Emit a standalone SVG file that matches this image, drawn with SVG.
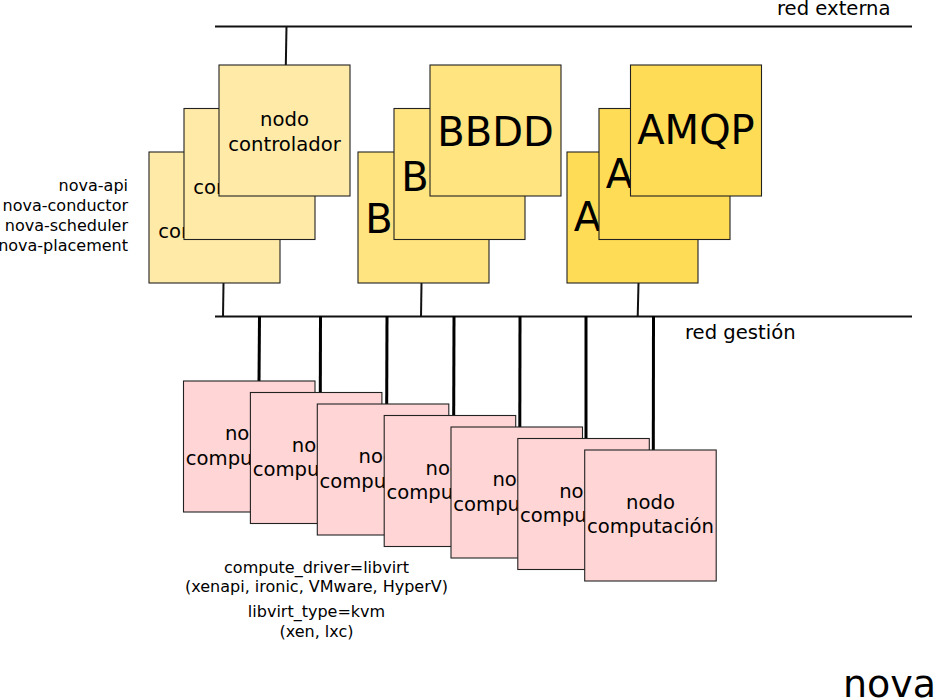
<svg xmlns="http://www.w3.org/2000/svg" width="936" height="698" viewBox="0 0 936 698">
<style>
text{font-family:"DejaVu Sans","Liberation Sans",sans-serif;fill:#000}
.box{stroke:#222;stroke-width:1.1}
.ctl{fill:#ffeaa8}
.db{fill:#ffe480}
.mq{fill:#ffdc55}
.cmp{fill:#ffd5d5}
.t{font-size:19.6px;text-anchor:middle}
.big{font-size:40px;text-anchor:middle}
.s{font-size:16px}
.net{font-size:19.6px}
.bus{stroke:#111;stroke-width:2;fill:none}
.ln{stroke:#111;stroke-width:2;fill:none}
.thk{stroke:#000;stroke-width:3;fill:none}
</style>
<g id="networks">
<line class="bus" x1="215" y1="26.5" x2="912" y2="26.5"/>
<line class="bus" x1="215" y1="316.5" x2="912" y2="316.5"/>
<text class="net" x="777" y="15">red externa</text>
<text class="net" x="685" y="339">red gestión</text>
</g>
<g id="connectors">
<line class="ln" x1="286.5" y1="26" x2="285.8" y2="66"/>
<line class="ln" x1="223.5" y1="283" x2="223" y2="317"/>
<line class="ln" x1="421.5" y1="283" x2="421" y2="317"/>
<line class="ln" x1="638.5" y1="283" x2="637.7" y2="317"/>
<line class="thk" x1="259.5" y1="316" x2="259" y2="382"/>
<line class="thk" x1="320.5" y1="316" x2="320.3" y2="393"/>
<line class="thk" x1="387" y1="316" x2="386.7" y2="405"/>
<line class="thk" x1="454" y1="316" x2="453.7" y2="416"/>
<line class="thk" x1="520" y1="316" x2="519.8" y2="428"/>
<line class="thk" x1="586" y1="316" x2="586" y2="439"/>
<line class="thk" x1="653.5" y1="316" x2="653.3" y2="451"/>
</g>
<g id="ctl-labels">
<text class="s" text-anchor="end" x="128" y="191">nova-api</text>
<text class="s" text-anchor="end" x="128" y="211">nova-conductor</text>
<text class="s" text-anchor="end" x="128" y="231">nova-scheduler</text>
<text class="s" text-anchor="end" x="128" y="251">nova-placement</text>
</g>
<g id="controlador-3">
<rect class="box ctl" x="149" y="152" width="131" height="131"/>
<text class="t" x="214.5" y="214">nodo</text>
<text class="t" x="214.5" y="238.3">controlador</text>
</g>
<g id="controlador-2">
<rect class="box ctl" x="184" y="108.5" width="131" height="131"/>
<text class="t" x="249.5" y="170">nodo</text>
<text class="t" x="249.5" y="194.2">controlador</text>
</g>
<g id="controlador-1">
<rect class="box ctl" x="219" y="65" width="131" height="131"/>
<text class="t" x="284.5" y="125.7">nodo</text>
<text class="t" x="284.5" y="150.5">controlador</text>
</g>
<g id="bbdd-3">
<rect class="box db" x="358" y="152" width="131" height="131"/>
<text class="big" x="423.5" y="233.3">BBDD</text>
</g>
<g id="bbdd-2">
<rect class="box db" x="394" y="108.5" width="131" height="131"/>
<text class="big" x="459.5" y="190.5">BBDD</text>
</g>
<g id="bbdd-1">
<rect class="box db" x="430" y="65" width="131" height="131"/>
<text class="big" x="495.5" y="146">BBDD</text>
</g>
<g id="amqp-3">
<rect class="box mq" x="567" y="152" width="131" height="131"/>
<text class="big" x="632.5" y="231">AMQP</text>
</g>
<g id="amqp-2">
<rect class="box mq" x="599" y="108.5" width="131" height="131"/>
<text class="big" x="664.5" y="187.5">AMQP</text>
</g>
<g id="amqp-1">
<rect class="box mq" x="630.5" y="65" width="131" height="131"/>
<text class="big" x="696" y="144">AMQP</text>
</g>
<g id="computacion-1">
<rect class="box cmp" x="183.5" y="381" width="131.5" height="131"/>
<text class="t" x="249.3" y="440">nodo</text>
<text class="t" x="249.3" y="464.5">computación</text>
</g>
<g id="computacion-2">
<rect class="box cmp" x="250.4" y="392.5" width="131.5" height="131"/>
<text class="t" x="316.2" y="451.5">nodo</text>
<text class="t" x="316.2" y="476">computación</text>
</g>
<g id="computacion-3">
<rect class="box cmp" x="317.3" y="404" width="131.5" height="131"/>
<text class="t" x="383" y="463">nodo</text>
<text class="t" x="383" y="487.5">computación</text>
</g>
<g id="computacion-4">
<rect class="box cmp" x="384.2" y="415.5" width="131.5" height="131"/>
<text class="t" x="450" y="474.5">nodo</text>
<text class="t" x="450" y="499">computación</text>
</g>
<g id="computacion-5">
<rect class="box cmp" x="451" y="427" width="131.5" height="131"/>
<text class="t" x="516.8" y="486">nodo</text>
<text class="t" x="516.8" y="510.5">computación</text>
</g>
<g id="computacion-6">
<rect class="box cmp" x="517.8" y="438.5" width="131.5" height="131"/>
<text class="t" x="583.6" y="497.5">nodo</text>
<text class="t" x="583.6" y="522">computación</text>
</g>
<g id="computacion-7">
<rect class="box cmp" x="584.7" y="450" width="131.5" height="131"/>
<text class="t" x="650.5" y="508.5">nodo</text>
<text class="t" x="650.5" y="533">computación</text>
</g>
<g id="cmp-labels">
<text class="s" text-anchor="middle" x="316.5" y="572.5">compute_driver=libvirt</text>
<text class="s" text-anchor="middle" x="316.5" y="592">(xenapi, ironic, VMware, HyperV)</text>
<text class="s" text-anchor="middle" x="316.5" y="616.5">libvirt_type=kvm</text>
<text class="s" text-anchor="middle" x="316.5" y="637">(xen, lxc)</text>
</g>
<text x="843" y="697" style="font-size:38px">nova</text>
</svg>
